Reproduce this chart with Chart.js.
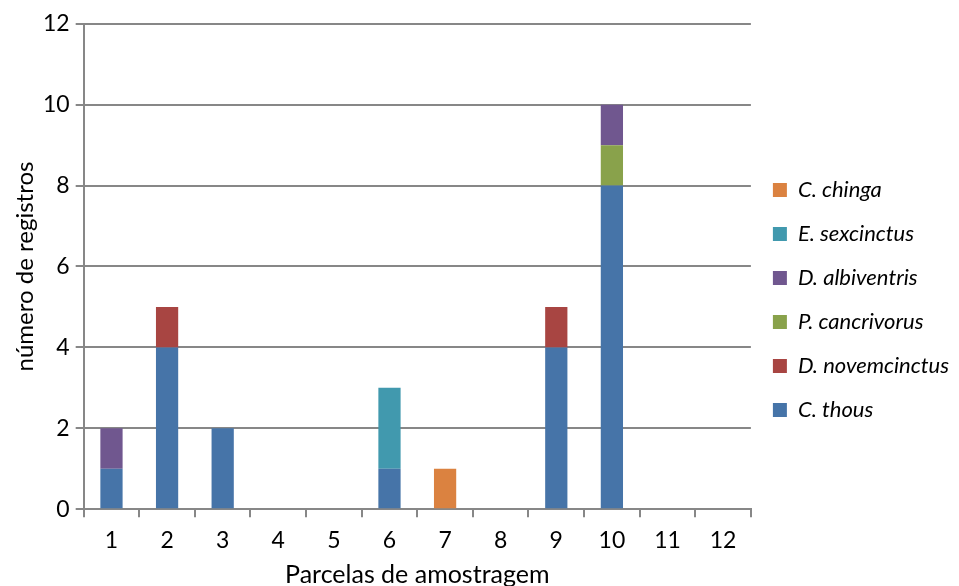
<!DOCTYPE html>
<html lang="pt">
<head>
    <meta charset="UTF-8">
    <title>Registros por parcela</title>
    <script src="https://cdn.jsdelivr.net/npm/chart.js"></script>
    <style>
        body { margin: 0; background: #fff; }
        #registrosChart { display: block; }
    </style>
</head>
<body>
    <canvas id="registrosChart" width="959" height="586"></canvas>

    <script>
        const parcelas = ['1', '2', '3', '4', '5', '6', '7', '8', '9', '10', '11', '12'];

        // registros por espécie em cada parcela
        const cThous        = [1, 4, 2, 0, 0, 1, 0, 0, 4, 8, 0, 0];
        const dNovemcinctus = [0, 1, 0, 0, 0, 0, 0, 0, 1, 0, 0, 0];
        const pCancrivorus  = [0, 0, 0, 0, 0, 0, 0, 0, 0, 1, 0, 0];
        const dAlbiventris  = [1, 0, 0, 0, 0, 0, 0, 0, 0, 1, 0, 0];
        const eSexcinctus   = [0, 0, 0, 0, 0, 2, 0, 0, 0, 0, 0, 0];
        const cChinga       = [0, 0, 0, 0, 0, 0, 1, 0, 0, 0, 0, 0];

        const yTicks = [0, 2, 4, 6, 8, 10, 12];

        const fonte = 'Lato, "Open Sans", sans-serif';
        const cinza = '#878787';

        const ctx = document.getElementById('registrosChart').getContext('2d');
        new Chart(ctx, {
            type: 'bar',
            data: {
                labels: parcelas,
                datasets: [
                    { label: 'C. thous', data: cThous, backgroundColor: '#4674A8' },
                    { label: 'D. novemcinctus', data: dNovemcinctus, backgroundColor: '#A84542' },
                    { label: 'P. cancrivorus', data: pCancrivorus, backgroundColor: '#89A24B' },
                    { label: 'D. albiventris', data: dAlbiventris, backgroundColor: '#70578F' },
                    { label: 'E. sexcinctus', data: eSexcinctus, backgroundColor: '#4199AE' },
                    { label: 'C. chinga', data: cChinga, backgroundColor: '#DB8240' }
                ]
            },
            options: {
                responsive: false,
                animation: false,
                barPercentage: 0.8,
                categoryPercentage: 0.5,
                layout: { padding: { top: 14, right: 0, left: 8, bottom: 0 } },
                plugins: {
                    tooltip: { enabled: false },
                    legend: {
                        position: 'right',
                        reverse: true,
                        labels: {
                            boxWidth: 14,
                            boxHeight: 14,
                            padding: 22,
                            color: '#000',
                            font: { family: fonte, size: 22, style: 'italic' }
                        }
                    }
                },
                scales: {
                    x: {
                        stacked: true,
                        grid: {
                            drawOnChartArea: false,
                            color: cinza,
                            lineWidth: 2,
                            tickLength: 8
                        },
                        border: { color: cinza, width: 2 },
                        ticks: { color: '#000', font: { family: fonte, size: 23 }, padding: 10 },
                        title: {
                            display: true,
                            text: 'Parcelas de amostragem',
                            color: '#000',
                            font: { family: fonte, size: 25, lineHeight: 0.85 },
                            padding: { top: 0, bottom: 0 }
                        }
                    },
                    y: {
                        stacked: true,
                        min: 0,
                        max: 12,
                        afterBuildTicks: axis => { axis.ticks = yTicks.map(v => ({ value: v })); },
                        grid: { color: cinza, lineWidth: 2, tickLength: 8 },
                        border: { color: cinza, width: 2 },
                        ticks: { color: '#000', font: { family: fonte, size: 23, lineHeight: 1.55 }, padding: 6 },
                        title: {
                            display: true,
                            text: 'número de registros',
                            color: '#000',
                            font: { family: fonte, size: 24, lineHeight: 1 },
                            padding: { top: 5, bottom: 0 }
                        }
                    }
                }
            }
        });
    </script>
</body>
</html>
